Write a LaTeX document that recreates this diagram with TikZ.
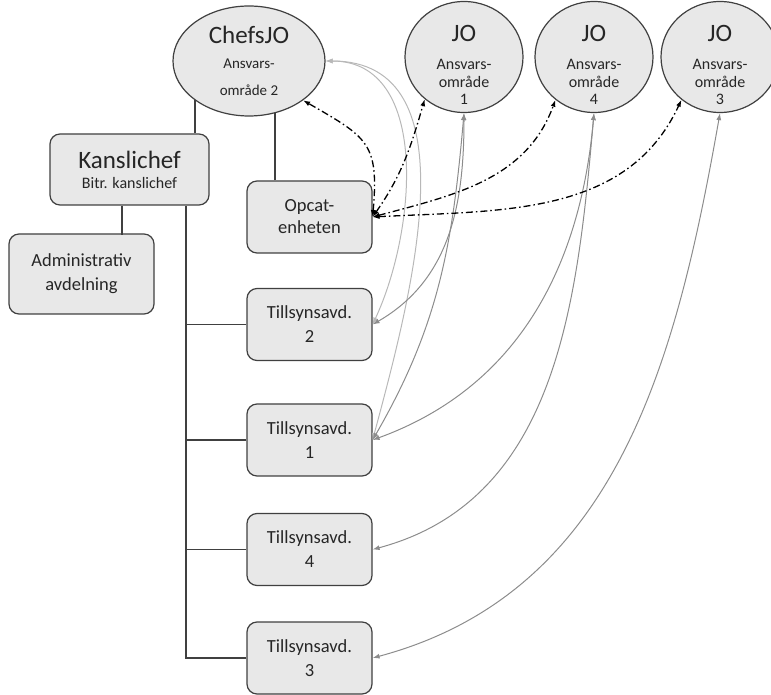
\documentclass[tikz,border=0pt]{standalone}
\usepackage{fontspec}
\setmainfont{Carlito}
\usepackage{tikz}
\usetikzlibrary{shapes.geometric,arrows.meta,backgrounds}

\definecolor{boxfill}{HTML}{E8E8E8}
\definecolor{boxline}{HTML}{404040}
\definecolor{linkgray}{HTML}{8C8C8C}
\definecolor{chefgray}{HTML}{B8B8B8}

\begin{document}
\begin{tikzpicture}[x=1pt, y=1pt, >={Latex[length=7pt,width=5pt]},
    boss/.style={ellipse, draw=boxline, fill=boxfill, line width=1.2pt, inner xsep=0pt, inner ysep=-25pt, align=center, text=black!85},
    dept/.style={rectangle, rounded corners=10pt, draw=boxline, fill=boxfill, line width=1.2pt, minimum width=125pt, minimum height=72pt, inner sep=0pt, align=center, text=black!85, font=\fontsize{18.5}{24}\selectfont},
    orgline/.style={draw=boxline, line width=1.2pt},
    jolink/.style={<->, draw=linkgray, line width=1pt},
    opclink/.style={<->, line width=1.3pt, dash pattern=on 7pt off 3pt on 1.5pt off 3pt}]
  \useasboundingbox (0,0) rectangle (771,694);

  \node[boss, minimum width=152pt, minimum height=110pt, font=\fontsize{15}{27}\selectfont] (chef) at (249,633) {{\fontsize{25}{30}\selectfont ChefsJO}\\[-2pt] Ansvars-\\område 2};
  \node[boss, minimum width=118pt, minimum height=111pt, font=\fontsize{16}{18}\selectfont] (jo1) at (464,637) {\rule{0pt}{32pt}{\fontsize{25}{30}\selectfont JO}\\[10pt] Ansvars-\\område\\[-1pt] 1};
  \node[boss, minimum width=118pt, minimum height=111pt, font=\fontsize{16}{18}\selectfont] (jo4) at (594,637) {\rule{0pt}{32pt}{\fontsize{25}{30}\selectfont JO}\\[10pt] Ansvars-\\område\\[-1pt] 4};
  \node[boss, minimum width=118pt, minimum height=111pt, font=\fontsize{16}{18}\selectfont] (jo3) at (720,637) {\rule{0pt}{32pt}{\fontsize{25}{30}\selectfont JO}\\[10pt] Ansvars-\\område\\[-1pt] 3};

  \node[dept, minimum width=159pt, minimum height=71pt, font=\fontsize{16}{20}\selectfont] (kansl) at (129.5,524.5) {{\fontsize{25}{30}\selectfont Kanslichef}\\ Bitr. kanslichef};
  \node[dept, minimum width=145pt, minimum height=80pt] (admin) at (81.5,420) {Administrativ\\avdelning};
  \node[dept] (opcat) at (309.5,477) {Opcat-\\[-2pt]enheten};
  \node[dept] (t2) at (309.5,369.5) {Tillsynsavd.\\2};
  \node[dept] (t1) at (309.5,254) {Tillsynsavd.\\1};
  \node[dept] (t4) at (309.5,144.5) {Tillsynsavd.\\4};
  \node[dept] (t3) at (309.5,36) {Tillsynsavd.\\3};

  \begin{scope}[on background layer]
    \draw[orgline] ([xshift=65.5pt]kansl.north) -- ++(0,80);
    \draw[orgline] ([xshift=-34.5pt]opcat.north) -- ++(0,130);
  \end{scope}
  \draw[orgline] ([xshift=-7.5pt]kansl.south) -- ++(0,-29);
  \draw[orgline] ([xshift=56.5pt]kansl.south) |- (t3.west);
  \foreach \n in {t2,t1,t4}
    \draw[orgline] (\n.west) -- ++(-61,0);

  \draw[jolink, draw=chefgray] (chef.east) to[out=0, in=65] (t2.east);
  \draw[jolink, draw=chefgray] (chef.east) to[out=0, in=75] (t1.east);
  \draw[jolink] (jo1.south) to[out=-90, in=30] (t2.east);
  \draw[jolink] (jo1.south) to[out=-95, in=60] (t1.east);
  \draw[jolink] (jo4.south) to[out=-95, in=20] (t1.east);
  \draw[jolink] (jo4.south) to[out=-95, in=15] (t4.east);
  \draw[jolink] (jo3.south) to[out=-100, in=15] (t3.east);

  \draw[opclink] (opcat.east) to[out=85, in=-30, looseness=1.4] (chef.-36);
  \draw[opclink] (opcat.east) to[out=55, in=-106] (jo1.-133);
  \draw[opclink] (opcat.east) to[out=15, in=-110] (jo4.-132);
  \draw[opclink] (opcat.east) to[out=3, in=-115] (jo3.-132);
\end{tikzpicture}
\end{document}
